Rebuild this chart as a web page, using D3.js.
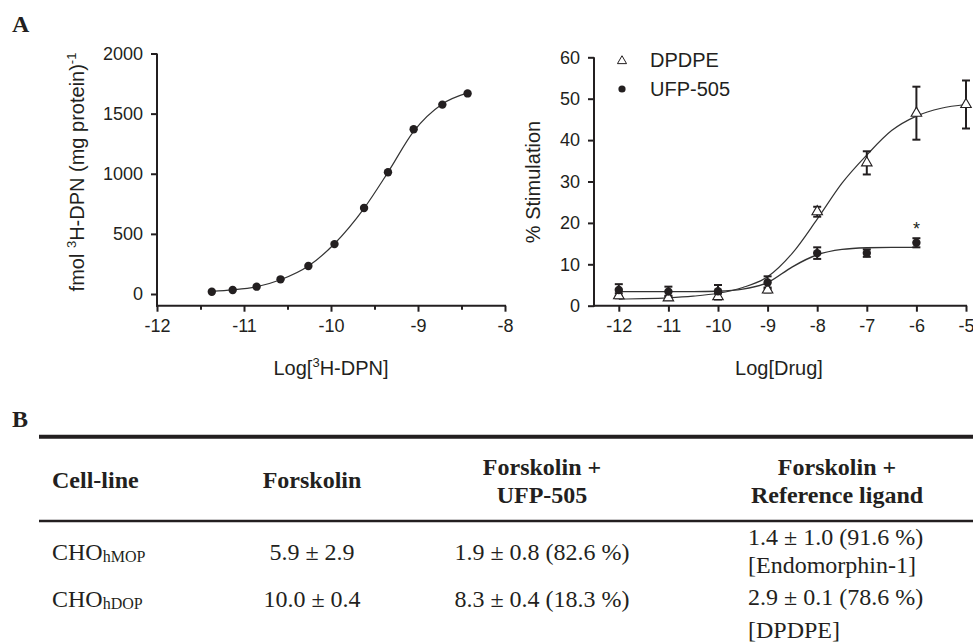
<!DOCTYPE html>
<html>
<head>
<meta charset="utf-8">
<script src="https://cdn.jsdelivr.net/npm/d3@7"></script>
<style>
  html, body { margin: 0; padding: 0; background: #fff; }
  svg { display: block; }
</style>
</head>
<body>
<script>
// ---------------- DATA ----------------
// Panel A, left: saturation binding
const dpnLog = [-11.37, -11.13, -10.855, -10.58, -10.26, -9.96, -9.62, -9.345, -9.05, -8.72, -8.43];
const dpnBound = [19, 33, 61, 122, 233, 415, 715, 1012, 1370, 1575, 1668];
const dpnFitLog = [-11.37, -11.13, -10.855, -10.58, -10.26, -9.96, -9.62, -9.345, -9.05, -8.72, -8.43];
const dpnFitBound = [22, 34, 60, 118, 232, 418, 712, 1012, 1352, 1580, 1672];
const leftXTicks = [-12, -11, -10, -9, -8];
const leftXMinor = [-11.5, -10.5, -9.5, -8.5];
const leftYTicks = [0, 500, 1000, 1500, 2000];

// Panel A, right: % stimulation
const drugLog = [-12, -11, -10, -9, -8, -7, -6, -5];
const dpdpeMean = [2.4, 1.9, 2.2, 3.8, 22.7, 34.5, 46.5, 48.6];
const dpdpeSem = [0.6, 0.5, 0.7, 0.6, 1.2, 2.8, 6.4, 5.8];
const ufpLog = [-12, -11, -10, -9, -8, -7, -6];
const ufpMean = [3.8, 3.4, 3.5, 5.6, 12.7, 12.7, 15.2];
const ufpSem = [1.4, 1.2, 1.5, 1.5, 1.4, 0.9, 1.1];
const dpdpeFitLog = [-12, -11.5, -11, -10.5, -10, -9.5, -9, -8.5, -8, -7.5, -7, -6.5, -6, -5.5, -5];
const dpdpeFitVal = [1.6, 1.7, 1.9, 2.3, 3.0, 4.4, 7.0, 12.7, 20.9, 29.6, 36.4, 42.3, 45.8, 47.7, 48.6];
const ufpFitLog = [-12, -11.5, -11, -10.5, -10, -9.5, -9, -8.5, -8, -7.5, -7, -6.5, -6];
const ufpFitVal = [3.4, 3.4, 3.4, 3.4, 3.5, 4.0, 5.6, 9.4, 12.3, 13.6, 14.0, 14.1, 14.1];
const rightXTicks = [-12, -11, -10, -9, -8, -7, -6, -5];
const rightYTicks = [0, 10, 20, 30, 40, 50, 60];
const legendLabels = ["DPDPE", "UFP-505"];
const starLog = -6, starVal = 19.5;

// Panel B: table
const tableHeaders = [["Cell-line"], ["Forskolin"], ["Forskolin +", "UFP-505"], ["Forskolin +", "Reference ligand"]];
const cellLines = [["CHO", "hMOP"], ["CHO", "hDOP"]];
const forskolin = ["5.9 ± 2.9", "10.0 ± 0.4"];
const forskolinUfp = ["1.9 ± 0.8 (82.6 %)", "8.3 ± 0.4 (18.3 %)"];
const forskolinRef = [["1.4 ± 1.0 (91.6 %)", "[Endomorphin-1]"], ["2.9 ± 0.1 (78.6 %)", "[DPDPE]"]];

// ---------------- DRAWING ----------------
const INK = "#231f20";
const SANS = "'Liberation Sans', Arial, Helvetica, sans-serif";
const SERIF = "'Liberation Serif', 'Times New Roman', Times, serif";
const fmt = d => String(d);   // plain hyphen-minus, no thousands separator

const svg = d3.select("body").append("svg")
  .attr("width", 973).attr("height", 644)
  .style("background", "#fff");

// panel letters
svg.append("text").attr("x", 12).attr("y", 32)
  .attr("font-family", SERIF).attr("font-weight", "bold").attr("font-size", 24)
  .attr("fill", INK).text("A");
svg.append("text").attr("x", 12).attr("y", 427)
  .attr("font-family", SERIF).attr("font-weight", "bold").attr("font-size", 24)
  .attr("fill", INK).text("B");

function styleAxis(g, fs) {
  g.select(".domain").remove();
  g.selectAll(".tick line").attr("stroke", INK).attr("stroke-width", 2);
  g.selectAll(".tick text").attr("fill", INK).attr("font-size", fs).attr("font-family", SANS);
}

// ---- Left chart ----
const xL = d3.scaleLinear().domain([-12, -8]).range([157, 505]);
const yL = d3.scaleLinear().domain([0, 2000]).range([294, 53.5]);
const xAxisYL = 305.7;

const gL = svg.append("g");
gL.append("g").attr("transform", `translate(0,${xAxisYL})`)
  .call(d3.axisBottom(xL).tickValues(leftXTicks).tickSize(6).tickPadding(8).tickFormat(fmt))
  .call(g => styleAxis(g, 18));
gL.append("g").attr("transform", `translate(0,${xAxisYL})`)
  .call(d3.axisBottom(xL).tickValues(leftXMinor).tickSize(4).tickFormat(""))
  .call(g => styleAxis(g, 18));
gL.append("g").attr("transform", `translate(${xL(-12)},0)`)
  .call(d3.axisLeft(yL).tickValues(leftYTicks).tickSize(6).tickPadding(8).tickFormat(fmt))
  .call(g => styleAxis(g, 18));
gL.append("line").attr("x1", xL(-12)).attr("x2", xL(-12))
  .attr("y1", yL(2000)).attr("y2", xAxisYL + 1)
  .attr("stroke", INK).attr("stroke-width", 2);
gL.append("line").attr("x1", xL(-12) - 1).attr("x2", xL(-8) + 1)
  .attr("y1", xAxisYL).attr("y2", xAxisYL)
  .attr("stroke", INK).attr("stroke-width", 2);

const fitL = dpnFitLog.map((d, i) => [d, dpnFitBound[i]]);
gL.append("path").datum(fitL)
  .attr("d", d3.line().x(d => xL(d[0])).y(d => yL(d[1])).curve(d3.curveMonotoneX))
  .attr("fill", "none").attr("stroke", "#333").attr("stroke-width", 1.2);
gL.selectAll("circle.pt").data(dpnLog.map((d, i) => [d, dpnBound[i]]))
  .enter().append("circle")
  .attr("cx", d => xL(d[0])).attr("cy", d => yL(d[1])).attr("r", 4.2)
  .attr("fill", INK);

// axis titles left
const tL = gL.append("text").attr("x", 331).attr("y", 375)
  .attr("text-anchor", "middle").attr("font-family", SANS).attr("font-size", 20).attr("fill", INK);
tL.append("tspan").text("Log[");
tL.append("tspan").attr("font-size", 13).attr("dy", -8).text("3");
tL.append("tspan").attr("dy", 8).text("H-DPN]");

const yTL = gL.append("text").attr("transform", "translate(84,172) rotate(-90)")
  .attr("text-anchor", "middle").attr("font-family", SANS).attr("font-size", 20).attr("fill", INK);
yTL.append("tspan").text("fmol ");
yTL.append("tspan").attr("font-size", 13).attr("dy", -8).text("3");
yTL.append("tspan").attr("dy", 8).text("H-DPN (mg protein)");
yTL.append("tspan").attr("font-size", 13).attr("dy", -8).text("-1");

// ---- Right chart ----
const xR = d3.scaleLinear().domain([-12.5, -5]).range([594, 966]);
const yR = d3.scaleLinear().domain([0, 60]).range([305.7, 57.3]);

const gR = svg.append("g");
gR.append("g").attr("transform", `translate(0,${yR(0)})`)
  .call(d3.axisBottom(xR).tickValues(rightXTicks).tickSize(6).tickPadding(8).tickFormat(fmt))
  .call(g => styleAxis(g, 18));
gR.append("g").attr("transform", `translate(${xR(-12.5)},0)`)
  .call(d3.axisLeft(yR).tickValues(rightYTicks).tickSize(6).tickPadding(8).tickFormat(fmt))
  .call(g => styleAxis(g, 18));
gR.append("line").attr("x1", xR(-12.5)).attr("x2", xR(-12.5))
  .attr("y1", yR(60)).attr("y2", yR(0) + 1)
  .attr("stroke", INK).attr("stroke-width", 2);
gR.append("line").attr("x1", xR(-12.5) - 1).attr("x2", xR(-5) + 1)
  .attr("y1", yR(0)).attr("y2", yR(0))
  .attr("stroke", INK).attr("stroke-width", 2);

const lineR = d3.line().x(d => xR(d[0])).y(d => yR(d[1])).curve(d3.curveMonotoneX);
gR.append("path").datum(dpdpeFitLog.map((d, i) => [d, dpdpeFitVal[i]]))
  .attr("d", lineR).attr("fill", "none").attr("stroke", "#333").attr("stroke-width", 1.2);
gR.append("path").datum(ufpFitLog.map((d, i) => [d, ufpFitVal[i]]))
  .attr("d", lineR).attr("fill", "none").attr("stroke", "#333").attr("stroke-width", 1.4);

function errorBars(xs, ms, ss) {
  const data = xs.map((d, i) => [d, ms[i], ss[i]]);
  const g = gR.append("g").attr("stroke", INK).attr("stroke-width", 2);
  data.forEach(d => {
    const x = xR(d[0]), y1 = yR(d[1] + d[2]), y2 = yR(d[1] - d[2]);
    g.append("line").attr("x1", x).attr("x2", x).attr("y1", y1).attr("y2", y2);
    g.append("line").attr("x1", x - 4).attr("x2", x + 4).attr("y1", y1).attr("y2", y1);
    g.append("line").attr("x1", x - 4).attr("x2", x + 4).attr("y1", y2).attr("y2", y2);
  });
}
errorBars(drugLog, dpdpeMean, dpdpeSem);
errorBars(ufpLog, ufpMean, ufpSem);

const tri = d3.symbol(d3.symbolTriangle).size(48);
gR.selectAll("path.tri").data(drugLog.map((d, i) => [d, dpdpeMean[i]]))
  .enter().append("path")
  .attr("d", tri)
  .attr("transform", d => `translate(${xR(d[0])},${yR(d[1])})`)
  .attr("fill", "#fff").attr("stroke", INK).attr("stroke-width", 1.1);
gR.selectAll("circle.dot").data(ufpLog.map((d, i) => [d, ufpMean[i]]))
  .enter().append("circle")
  .attr("cx", d => xR(d[0])).attr("cy", d => yR(d[1])).attr("r", 4.2)
  .attr("fill", INK);

gR.append("text").attr("x", xR(starLog)).attr("y", yR(starVal) + 10)
  .attr("text-anchor", "middle").attr("font-family", SANS).attr("font-size", 18)
  .attr("fill", INK).text("*");

// legend
gR.append("path").attr("d", d3.symbol(d3.symbolTriangle).size(36))
  .attr("transform", "translate(622,61)")
  .attr("fill", "#fff").attr("stroke", INK).attr("stroke-width", 1);
gR.append("circle").attr("cx", 622).attr("cy", 89).attr("r", 3.6).attr("fill", INK);
gR.selectAll("text.leg").data(legendLabels).enter().append("text")
  .attr("x", 650).attr("y", (d, i) => 67 + i * 29)
  .attr("font-family", SANS).attr("font-size", 20).attr("fill", INK).text(d => d);

gR.append("text").attr("x", 779).attr("y", 375)
  .attr("text-anchor", "middle").attr("font-family", SANS).attr("font-size", 20).attr("fill", INK)
  .text("Log[Drug]");
gR.append("text").attr("transform", "translate(540,182) rotate(-90)")
  .attr("text-anchor", "middle").attr("font-family", SANS).attr("font-size", 20).attr("fill", INK)
  .text("% Stimulation");

// ---- Table ----
const gT = svg.append("g").attr("font-family", SERIF).attr("fill", INK);
gT.append("line").attr("x1", 39).attr("x2", 973).attr("y1", 436.7).attr("y2", 436.7)
  .attr("stroke", INK).attr("stroke-width", 4);
gT.append("line").attr("x1", 39).attr("x2", 973).attr("y1", 521).attr("y2", 521)
  .attr("stroke", INK).attr("stroke-width", 2.5);

const colX = [52, 312, 542, 837];
const colAnchor = ["start", "middle", "middle", "middle"];
tableHeaders.forEach((lines, c) => {
  const base = lines.length === 1 ? 488 : 475;
  lines.forEach((t, k) => {
    gT.append("text").attr("x", colX[c]).attr("y", base + k * 27.5)
      .attr("text-anchor", colAnchor[c]).attr("font-weight", "bold").attr("font-size", 24)
      .text(t);
  });
});

const rowBase = [559.5, 606.5];
const refBase = [[545, 573], [605, 638]];
cellLines.forEach((cl, r) => {
  const t = gT.append("text").attr("x", 52).attr("y", rowBase[r]).attr("font-size", 24);
  t.append("tspan").text(cl[0]);
  t.append("tspan").attr("font-size", 16).attr("dy", 2).text(cl[1]);
  gT.append("text").attr("x", colX[1]).attr("y", rowBase[r]).attr("text-anchor", "middle")
    .attr("font-size", 24).text(forskolin[r]);
  gT.append("text").attr("x", colX[2]).attr("y", rowBase[r]).attr("text-anchor", "middle")
    .attr("font-size", 24).text(forskolinUfp[r]);
  forskolinRef[r].forEach((s, k) => {
    gT.append("text").attr("x", 748).attr("y", refBase[r][k])
      .attr("font-size", 24).text(s);
  });
});
</script>
</body>
</html>
